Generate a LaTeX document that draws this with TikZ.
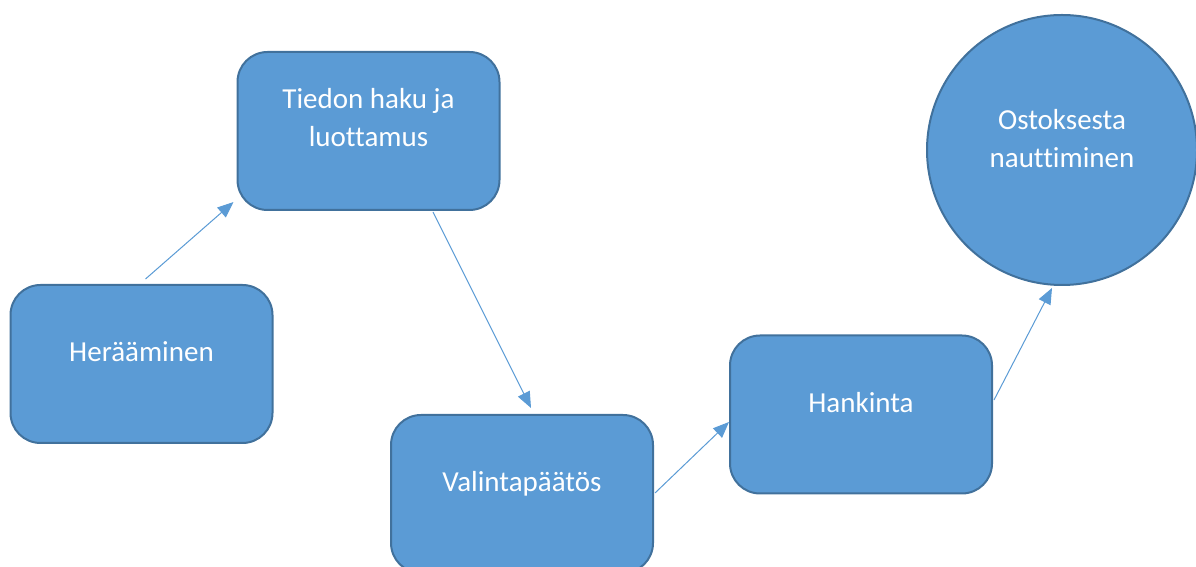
\documentclass[tikz,border=0pt]{standalone}
\usepackage{fontspec}
\setmainfont[Ligatures=NoCommon]{Carlito}
\usetikzlibrary{arrows.meta,calc,shapes.geometric}
\definecolor{stepfill}{HTML}{5B9BD5}
\definecolor{stepline}{HTML}{41719C}
\begin{document}
\begin{tikzpicture}[x=1pt,y=1pt,
  stepbox/.style={draw=stepline,fill=stepfill,line width=2pt,rounded corners=30pt,
    minimum width=262pt,minimum height=158pt,inner sep=0pt},
  endcircle/.style={circle,draw=stepline,fill=stepfill,line width=2pt,
    minimum size=270pt,inner sep=0pt},
  label text/.style={text=white,font=\fontsize{29}{38.5}\selectfont,align=center,anchor=base,inner sep=0pt},
  flow/.style={draw=stepfill,line width=1pt,-{Triangle[length=16pt,width=13pt]}}]
\useasboundingbox (0,0) rectangle (1196,567);
\clip (0,0) rectangle (1196,567);

% process steps
\node[stepbox] (wake) at (141.5,203) {};
\node[stepbox] (search) at (368.5,436) {};
\node[stepbox] (choice) at (522,73) {};
\node[stepbox] (buy) at (861,152.5) {};
\node[endcircle] (enjoy) at (1062,417) {};

% step labels (base anchor = baseline of the last line)
\node[label text] (wakeT) at ($(wake.center)+(0,2)$) {Herääminen};
\node[label text] (searchT) at ($(search.center)+(0,-16)$) {Tiedon haku ja\\luottamus};
\node[label text] (choiceT) at ($(choice.center)+(0,2)$) {Valintapäätös};
\node[label text] (buyT) at ($(buy.center)+(0,1.5)$) {Hankinta};
\node[label text] (enjoyT) at ($(enjoy.center)+(0,-18)$) {Ostoksesta\\nauttiminen};

% connectors
\draw[flow] ($(wake.north)+(4,5)$) -- ($(search.south west)+(-3,9)$);
\draw[flow] ($(search.south)+(64.5,-1)$) -- ($(choice.north)+(9,6)$);
\draw[flow] ($(choice.east)+(1,1)$) -- ($(buy.west)+(0,-7.5)$);
\draw[flow] ($(buy.east)+(1,14.5)$) -- ($(enjoy.south)+(-10,-2)$);
\end{tikzpicture}
\end{document}
